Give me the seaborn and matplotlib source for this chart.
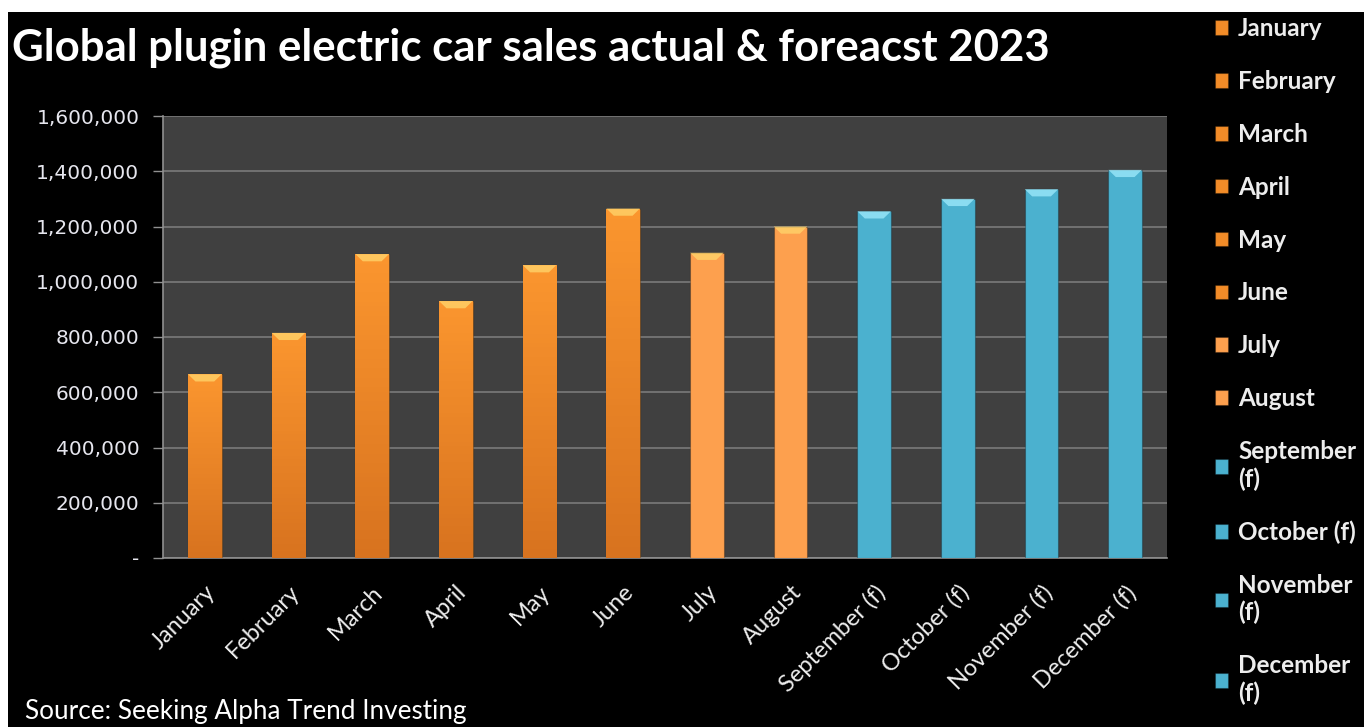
import numpy as np
import pandas as pd
import seaborn as sns
import matplotlib.pyplot as plt
from matplotlib.patches import Rectangle, Polygon
from matplotlib.colors import LinearSegmentedColormap
from matplotlib.ticker import FuncFormatter

# Monthly global plugin EV sales, 2023 (Sep-Dec are forecasts)
months = ["January", "February", "March", "April", "May", "June",
          "July", "August", "September (f)", "October (f)",
          "November (f)", "December (f)"]
legend_labels = ["January", "February", "March", "April", "May", "June",
                 "July", "August", "September\n(f)", "October (f)",
                 "November\n(f)", "December\n(f)"]
sales = [665000, 815000, 1100000, 930000, 1060000, 1265000,
         1105000, 1200000, 1255000, 1300000, 1335000, 1405000]
bar_colors = ["#F28C28"] * 6 + ["#FDA04E"] * 2 + ["#4BB1CF"] * 4
cap_colors = ["#FFD36A"] * 8 + ["#9BE8FA"] * 4

df = pd.DataFrame({"month": months, "sales": sales})

sns.set_style("dark")
plt.rcParams["font.family"] = ["DejaVu Sans"]

fig = plt.figure(figsize=(13.64, 7.27), dpi=100)
fig.patch.set_facecolor("white")
# black canvas (the screenshot has a thin white strip at top and left)
fig.patches.append(Rectangle((8 / 1364, 0), 1, 1 - 12 / 727,
                             transform=fig.transFigure, facecolor="black",
                             edgecolor="none", zorder=-10))

ax = fig.add_axes([163 / 1364, 1 - 558 / 727, (1167 - 163) / 1364,
                   (558 - 116) / 727])
ax.set_facecolor("#404040")

sns.barplot(data=df, x="month", y="sales", hue="month", palette=bar_colors,
            width=0.4, legend=False, saturation=1, ax=ax, zorder=3)
bars = list(ax.patches[:12])

# darker shading toward the bottom of the solid-orange bars
cmap = LinearSegmentedColormap.from_list("o", ["#D8731F", "#FB962F"])
grad = np.linspace(0, 1, 64).reshape(-1, 1)
for p in bars[:6]:
    x0, w, h = p.get_x(), p.get_width(), p.get_height()
    im = ax.imshow(grad, cmap=cmap, aspect="auto", origin="lower",
                   extent=(x0, x0 + w, 0, h), zorder=4)
    im.set_clip_path(p)

# light bevel on top of each bar
cap_h = 26000
for p, cc in zip(bars, cap_colors):
    x0, w, h = p.get_x(), p.get_width(), p.get_height()
    cap = Polygon([(x0, h), (x0 + w, h), (x0 + 0.78 * w, h - cap_h),
                   (x0 + 0.22 * w, h - cap_h)], closed=True,
                  facecolor=cc, edgecolor="none", alpha=0.8, zorder=5)
    ax.add_patch(cap)

for p in bars:
    p.set_edgecolor("#00000040")
    p.set_linewidth(0.8)

ax.set_xlim(-0.5, 11.5)
ax.set_ylim(0, 1600000)
ax.set_yticks(np.arange(0, 1600001, 200000))
ax.yaxis.set_major_formatter(FuncFormatter(
    lambda v, _: "-" if v == 0 else f"{int(v):,}"))
ax.grid(axis="y", color="#7A7A7A", linewidth=1.2, zorder=1)
ax.grid(axis="x", visible=False)

ax.set_xticks(range(len(months)))
ax.set_xticklabels(months, rotation=45, ha="right", rotation_mode="anchor",
                   family=["Lato", "DejaVu Sans"], fontsize=17, color="#EDEDED")
ax.set_xticks(np.arange(-0.5, 12, 1), minor=True)
ax.tick_params(axis="x", which="major", length=0, pad=17)
ax.tick_params(axis="x", which="minor", length=7, color="#909090", width=1)
ax.tick_params(axis="y", length=7, color="#909090", width=1, labelsize=14.5,
               labelcolor="#E6E6EE", pad=10, left=True)
ax.set_xlabel("")
ax.set_ylabel("")
for side in ["top", "right"]:
    ax.spines[side].set_visible(False)
for side in ["left", "bottom"]:
    ax.spines[side].set_visible(True)
    ax.spines[side].set_color("#909090")
    ax.spines[side].set_linewidth(1.2)

fig.text(12 / 1364, 1 - 48 / 727,
         "Global plugin electric car sales actual & foreacst 2023",
         color="white", fontsize=31.5, fontweight="bold",
         family=["Lato", "DejaVu Sans"], va="center", ha="left")
fig.text(25 / 1364, 1 - 711 / 727, "Source: Seeking Alpha Trend Investing",
         color="white", fontsize=18.8, family=["Lato", "DejaVu Sans"],
         va="center", ha="left")

leg = fig.legend(bars, legend_labels, loc="upper left",
                 bbox_to_anchor=(1215 / 1364, 1 - 17 / 727),
                 frameon=False, labelcolor="#EDEDED",
                 handlelength=0.55, handleheight=0.55, handletextpad=0.4,
                 labelspacing=1.23, borderaxespad=0, borderpad=0,
                 prop={"family": ["Lato", "DejaVu Sans"], "weight": "bold",
                       "size": 17.5})

fig.savefig("out.png", dpi=100, facecolor=fig.get_facecolor())
